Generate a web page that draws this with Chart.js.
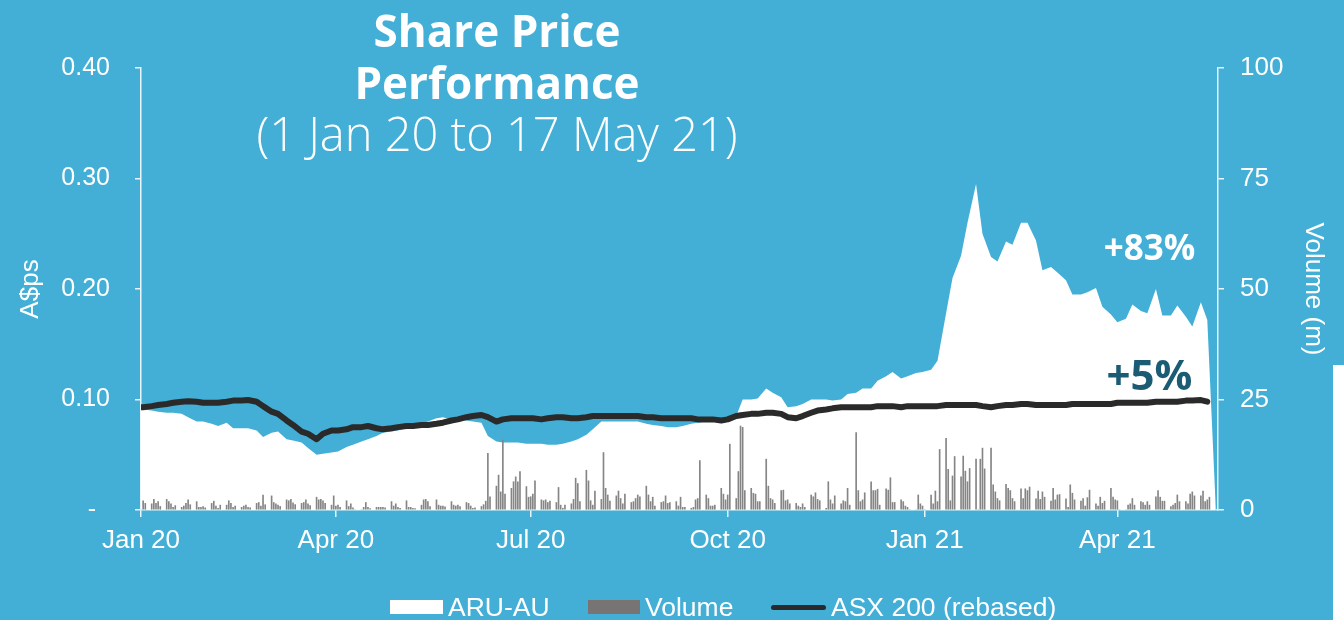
<!DOCTYPE html>
<html>
<head>
<meta charset="utf-8">
<script src="https://cdn.jsdelivr.net/npm/chart.js@4.4.1/dist/chart.umd.min.js"></script>
<style>
  html, body { margin: 0; padding: 0; }
  body { width: 1344px; height: 620px; overflow: hidden; background: #43afd6; }
  #wrap { position: relative; width: 1344px; height: 620px; }
  #chart { position: absolute; left: 0; top: 0; }
  .ttl { position: absolute; left: 147px; width: 700px; text-align: center; color: #fff;
         font-family: 'Open Sans', 'Noto Sans', sans-serif; white-space: nowrap; }
  .t1 { font-size: 44px; line-height: 44px; font-weight: 700; }
  .t2 { font-size: 47px; line-height: 47px; font-weight: 300; }
  .lg { position: absolute; color: #fff; font-family: 'Liberation Sans', Arial, sans-serif;
        font-size: 26.5px; line-height: 26px; top: 594px; white-space: nowrap; }
  .sw { position: absolute; }
  #edge { position: absolute; left: 1333px; top: 365px; width: 11px; height: 255px; background: #fff; }
</style>
</head>
<body>
<div id="wrap">
  <canvas id="chart" width="1344" height="620"></canvas>
  <div class="ttl t1" style="top:8px">Share Price</div>
  <div class="ttl t1" style="top:60px">Performance</div>
  <div class="ttl t2" style="top:110px">(1 Jan 20 to 17 May 21)</div>

  <div class="sw" style="left:390px;top:600px;width:53px;height:14px;background:#fff"></div>
  <div class="lg" style="left:448px">ARU-AU</div>
  <div class="sw" style="left:588px;top:600px;width:52px;height:14px;background:#777473"></div>
  <div class="lg" style="left:645px">Volume</div>
  <div class="sw" style="left:771px;top:605px;width:55px;height:5px;background:#2a2a2a;border-radius:3px"></div>
  <div class="lg" style="left:831px">ASX 200 (rebased)</div>
  <div id="edge"></div>
</div>
<script>
// x axis is days since 1 Jan 2020
const tickDays = [0, 91, 182, 274, 366, 456];
const tickLabels = ['Jan 20', 'Apr 20', 'Jul 20', 'Oct 20', 'Jan 21', 'Apr 21'];
const lastDay = 502; // 17 May 21

// ARU-AU price (A$), sampled Mon & Thu (first value 1 Jan 20)
const price = [
  0.091, 0.091,
  0.090, 0.089, 0.088, 0.088, 0.087, 0.084, 0.080, 0.080, 0.078, 0.076,
  0.079, 0.074, 0.074, 0.074, 0.072, 0.066, 0.070, 0.071, 0.064, 0.063,
  0.061, 0.056, 0.050, 0.051, 0.052, 0.053, 0.057, 0.059, 0.062, 0.064,
  0.067, 0.070, 0.071, 0.072, 0.074, 0.075, 0.078, 0.080, 0.083, 0.084,
  0.082, 0.082, 0.081, 0.080, 0.079, 0.067, 0.062, 0.061, 0.061, 0.061,
  0.060, 0.060, 0.060, 0.059, 0.059, 0.060, 0.062, 0.064, 0.068, 0.073,
  0.080, 0.080, 0.080, 0.080, 0.080, 0.080, 0.078, 0.077, 0.076, 0.075,
  0.075, 0.076, 0.078, 0.079, 0.080, 0.080, 0.081, 0.081, 0.085, 0.100,
  0.100, 0.101, 0.110, 0.106, 0.102, 0.093, 0.094, 0.096, 0.100, 0.100,
  0.100, 0.099, 0.100, 0.105, 0.106, 0.110, 0.110, 0.117, 0.121, 0.125,
  0.119, 0.121, 0.124, 0.125, 0.127, 0.135, 0.178, 0.210, 0.230, 0.260,
  0.295, 0.250, 0.229, 0.225, 0.243, 0.240, 0.260, 0.260, 0.244, 0.217,
  0.220, 0.215, 0.208, 0.195, 0.195, 0.197, 0.201, 0.184, 0.177, 0.170,
  0.173, 0.186, 0.180, 0.178, 0.200, 0.176, 0.176, 0.185, 0.175, 0.166,
  0.188, 0.172,
  0
];

// ASX 200 rebased to the ARU-AU price, same dates
const asx = [
  0.093, 0.093,
  0.094, 0.095, 0.096, 0.097, 0.098, 0.0985, 0.098, 0.097, 0.097, 0.097,
  0.098, 0.099, 0.099, 0.0995, 0.098, 0.094, 0.089, 0.087, 0.081, 0.077,
  0.071, 0.069, 0.064, 0.069, 0.072, 0.072, 0.073, 0.075, 0.075, 0.076,
  0.074, 0.073, 0.074, 0.075, 0.076, 0.076, 0.077, 0.077, 0.078, 0.079,
  0.081, 0.082, 0.084, 0.085, 0.086, 0.084, 0.080, 0.082, 0.083, 0.083,
  0.083, 0.083, 0.082, 0.083, 0.084, 0.084, 0.083, 0.083, 0.084, 0.085,
  0.085, 0.085, 0.085, 0.085, 0.085, 0.085, 0.084, 0.084, 0.083, 0.083,
  0.083, 0.083, 0.083, 0.082, 0.082, 0.082, 0.081, 0.082, 0.085, 0.086,
  0.087, 0.087, 0.088, 0.088, 0.087, 0.084, 0.083, 0.085, 0.088, 0.090,
  0.091, 0.092, 0.093, 0.093, 0.093, 0.093, 0.093, 0.094, 0.094, 0.094,
  0.093, 0.094, 0.094, 0.094, 0.094, 0.094, 0.095, 0.095, 0.095, 0.095,
  0.095, 0.094, 0.093, 0.094, 0.095, 0.095, 0.096, 0.096, 0.095, 0.095,
  0.095, 0.095, 0.095, 0.096, 0.096, 0.096, 0.096, 0.096, 0.096, 0.097,
  0.097, 0.097, 0.097, 0.097, 0.098, 0.098, 0.098, 0.098, 0.099, 0.099,
  0.0995, 0.098,
  null
];

// daily volume (m), one line per week
const volume = [
  0, 2.1, 1.5,
  1.4, 2.4, 1.5, 1.9, 0.8,
  2.4, 1.9, 1.4, 0.6, 1.0,
  0.6, 0.9, 1.5, 2.3, 1.2,
  1.9, 0.6, 0.6, 0.8, 0.5,
  1.5, 2.0, 0.9, 0.4, 1.1,
  1.1, 2.1, 1.5, 0.6, 0.9,
  0.6, 0.9, 1.1, 0.6, 0.5,
  1.5, 1.7, 0.9, 3.4, 1.2,
  3.2, 1.7, 1.4, 1.1, 0.8,
  2.3, 2.1, 2.4, 1.6, 1.2,
  1.5, 1.7, 2.3, 1.4, 1.0,
  2.9, 2.3, 2.4, 2.1, 1.5,
  1.1, 3.2, 0.9, 1.1, 0.6,
  2.1, 0.8, 1.4, 0.5, 0,
  0, 0.6, 1.7, 0.6, 0.3,
  0.6, 0.6, 0.6, 0.6, 0.5,
  1.9, 0.9, 1.4, 0.6, 0.4,
  2.1, 0.6, 0.6, 0.4, 0.3,
  1.1, 2.3, 2.4, 1.9, 0.8,
  2.3, 1.1, 0.9, 0.9, 0.7,
  1.9, 1.1, 0.9, 1.1, 0.8,
  1.7, 1.5, 0.9, 0.4, 0.5,
  0.8, 1.2, 2.0, 12.8, 3.0,
  5.4, 7.9, 4.1, 15.8, 3.6,
  4.9, 6.4, 7.5, 6.4, 8.7,
  5.3, 2.9, 3.0, 3.6, 6.6,
  2.3, 2.1, 2.3, 1.7, 2.0,
  1.7, 5.1, 1.1, 0.4, 1.1,
  1.4, 2.4, 7.2, 6.0, 1.9,
  9.0, 6.6, 2.1, 1.1, 4.3,
  2.4, 13.0, 4.9, 3.4, 2.0,
  3.2, 4.3, 2.6, 1.4, 3.6,
  1.7, 1.9, 2.6, 3.4, 3.0,
  5.4, 3.4, 1.9, 2.9, 0.9,
  1.7, 1.9, 3.2, 1.5, 1.7,
  1.9, 0.9, 2.9, 0.6, 0.6,
  0.4, 0.6, 2.3, 2.6, 11.2,
  3.4, 2.6, 0.9, 0.9, 1.1,
  4.9, 3.6, 2.3, 3.4, 14.9,
  2.6, 8.7, 19.0, 18.7, 4.4,
  4.9, 3.8, 3.6, 1.9, 1.9,
  11.5, 5.4, 2.6, 2.3, 1.5,
  4.4, 4.5, 2.1, 2.3, 1.4,
  1.5, 0.9, 0.6, 1.4, 0.6,
  3.4, 3.0, 3.9, 2.4, 2.1,
  0.4, 6.4, 2.3, 1.4, 3.2,
  1.4, 2.1, 1.9, 4.9, 1.1,
  17.5, 4.4, 1.9, 2.3, 3.9,
  6.4, 4.4, 4.4, 4.7, 1.1,
  4.8, 4.5, 7.3, 1.7, 1.7,
  2.3, 1.9, 0.9, 0.6, 0,
  0, 3.4, 1.4, 0.9, 0,
  3.4, 1.4, 4.3, 1.9, 13.7,
  16.2, 9.2, 2.1, 7.7, 12.1,
  7.5, 12.2, 8.8, 6.4, 9.4,
  11.5, 0, 11.5, 14.0, 9.3,
  14.0, 5.7, 4.1, 2.6, 2.1,
  5.8, 4.9, 4.4, 2.6, 1.9,
  4.8, 2.6, 4.8, 4.4, 5.2,
  2.5, 4.3, 2.4, 4.1, 2.9,
  2.0, 4.9, 2.3, 3.4, 3.5,
  2.5, 0.6, 5.7, 3.8, 2.3,
  2.0, 2.6, 0.9, 2.8, 4.5,
  1.4, 0.9, 2.9, 1.5, 2.0,
  4.9, 2.9, 2.3, 2.1, 0,
  0, 1.1, 1.4, 2.6, 1.1,
  1.9, 1.7, 1.1, 1.9, 1.1,
  3.0, 4.4, 2.9, 2.0, 2.0,
  0.8, 1.1, 1.5, 3.4, 1.9,
  1.9, 1.4, 3.6, 4.1, 3.2,
  3.2, 4.3, 1.9, 2.3, 2.9,
  0
];

// performance call-outs
const notes = [
  { text: '+83%', day: 471, val: 0.226, color: '#ffffff', size: 35 },
  { text: '+5%', day: 471, val: 0.1086, color: '#1b5c74', size: 42 }
];

// trading days (weekdays) and the Mon/Thu sample dates
const tradeDays = [];
const gridDays = [];
for (let d = 0; d <= lastDay; d++) {
  const dow = (3 + d) % 7; // 1 Jan 20 was a Wednesday
  if (dow !== 0 && dow !== 6) tradeDays.push(d);
  if (d === 0 || dow === 1 || dow === 4) gridDays.push(d);
}

const notePlugin = {
  id: 'notes',
  afterDatasetsDraw(chart) {
    const c = chart.ctx;
    const xs = chart.scales.x, ys = chart.scales.y;
    c.save();
    c.textAlign = 'center';
    c.textBaseline = 'alphabetic';
    notes.forEach(n => {
      c.font = '700 ' + n.size + "px 'Open Sans', 'Noto Sans', sans-serif";
      c.fillStyle = n.color;
      c.fillText(n.text, xs.getPixelForValue(n.day), ys.getPixelForValue(n.val));
    });
    c.restore();
  }
};

Chart.defaults.font.family = "'Liberation Sans', Arial, sans-serif";
Chart.defaults.font.size = 26;
Chart.defaults.color = '#ffffff';

const axisLine = '#e9f5fa';

new Chart(document.getElementById('chart'), {
  type: 'line',
  data: {
    datasets: [
      {
        label: 'ASX 200 (rebased)',
        data: asx.map((v, i) => ({ x: gridDays[i], y: v })),
        borderColor: '#2a2a2a',
        borderWidth: 6,
        borderCapStyle: 'round',
        borderJoinStyle: 'round',
        pointRadius: 0,
        fill: false,
        yAxisID: 'y',
        order: 1
      },
      {
        type: 'bar',
        label: 'Volume',
        data: volume.map((v, i) => ({ x: tradeDays[i], y: v })),
        backgroundColor: '#858585',
        barThickness: 1,
        yAxisID: 'y1',
        order: 2
      },
      {
        label: 'ARU-AU',
        data: price.map((v, i) => ({ x: gridDays[i], y: v })),
        borderWidth: 0,
        borderColor: 'rgba(0,0,0,0)',
        backgroundColor: '#ffffff',
        pointRadius: 0,
        fill: 'origin',
        yAxisID: 'y',
        order: 3
      }
    ]
  },
  options: {
    responsive: false,
    animation: false,
    layout: { padding: { top: 68, left: 0, right: 0, bottom: 0 } },
    plugins: { legend: { display: false }, tooltip: { enabled: false } },
    scales: {
      x: {
        type: 'linear',
        min: 0,
        max: 503,
        offset: false,
        afterBuildTicks: s => { s.ticks = tickDays.map(v => ({ value: v })); },
        afterFit: s => { s.height = 110; },
        grid: { offset: false, drawOnChartArea: false, drawTicks: true, tickLength: 7, color: axisLine, lineWidth: 1.5 },
        border: { display: true, color: axisLine, width: 1.5 },
        ticks: {
          autoSkip: false,
          maxRotation: 0,
          padding: 8,
          callback: v => tickLabels[tickDays.indexOf(v)]
        }
      },
      y: {
        position: 'left',
        min: 0,
        max: 0.4,
        afterFit: s => { s.width = 141; },
        grid: { drawOnChartArea: false, drawTicks: true, tickLength: 6, color: axisLine, lineWidth: 1.5 },
        border: { display: true, color: axisLine, width: 1.5 },
        ticks: {
          stepSize: 0.1,
          padding: 25,
          font: { size: 25 },
          callback: v => v === 0 ? '-  ' : v.toFixed(2)
        },
        title: { display: true, text: 'A$ps', padding: { top: 15, bottom: 0 } }
      },
      y1: {
        position: 'right',
        min: 0,
        max: 100,
        afterFit: s => { s.width = 126; },
        grid: { drawOnChartArea: false, drawTicks: true, tickLength: 6, color: axisLine, lineWidth: 1.5 },
        border: { display: true, color: axisLine, width: 1.5 },
        ticks: { stepSize: 25, padding: 16 },
        title: { display: true, text: 'Volume (m)', padding: { top: 15, bottom: 0 } }
      }
    }
  },
  plugins: [notePlugin]
});
</script>
</body>
</html>
